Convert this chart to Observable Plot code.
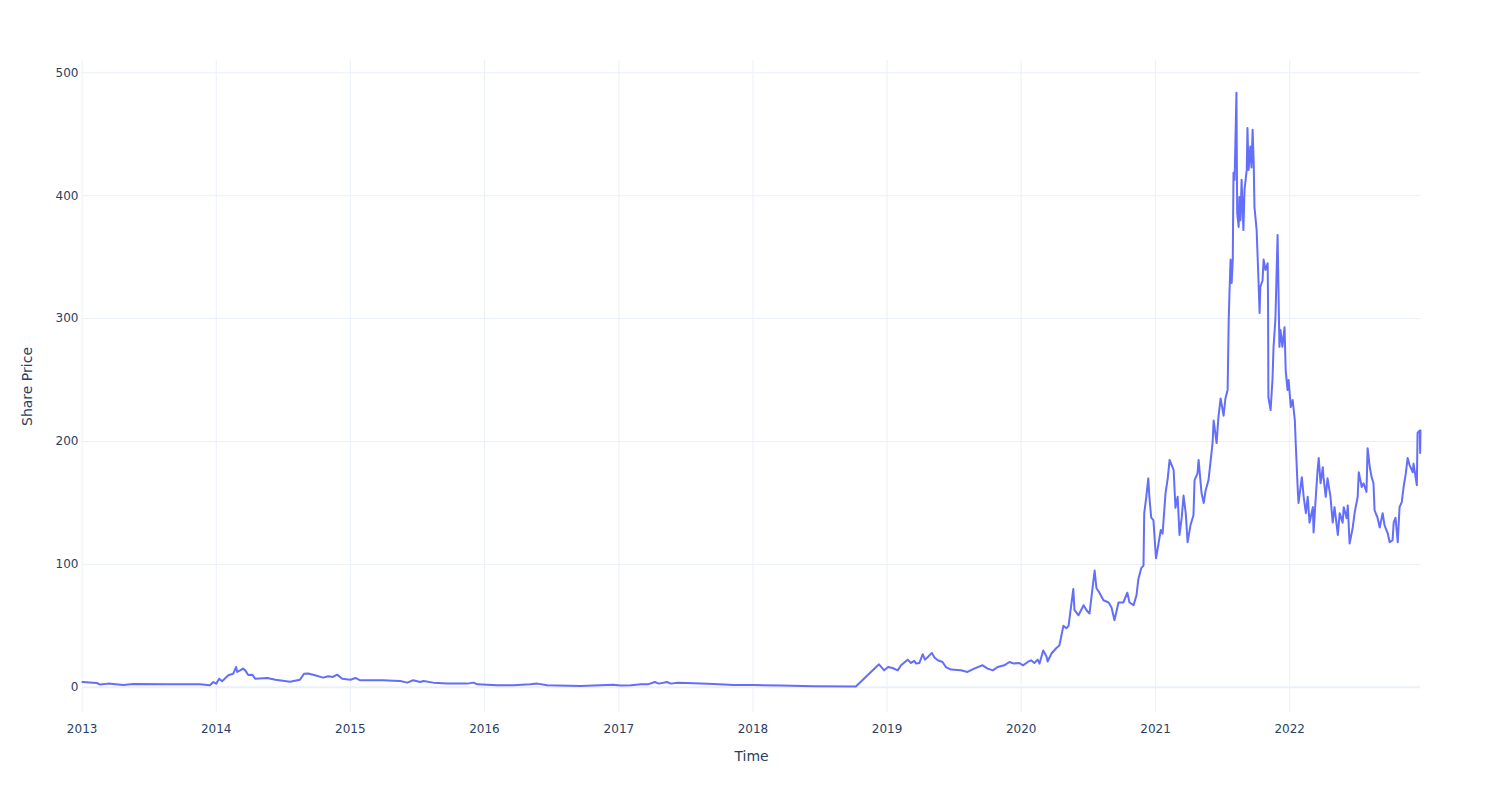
<!DOCTYPE html>
<html><head><meta charset="utf-8">
<script src="https://cdn.jsdelivr.net/npm/d3@7"></script>
<script src="https://cdn.jsdelivr.net/npm/@observablehq/plot@0.6"></script>
<style>body{margin:0;background:#fff;}</style>
</head><body><div id="chart"></div>
<script>
const dates = [
"2013-01-02","2013-02-10","2013-02-19","2013-03-13","2013-04-23","2013-05-20","2013-08-20","2013-11-18","2013-12-15","2013-12-24",
"2014-01-01","2014-01-09","2014-01-17","2014-02-03","2014-02-16","2014-02-24","2014-02-27","2014-03-07","2014-03-15","2014-03-21",
"2014-03-29","2014-04-09","2014-04-17","2014-05-20","2014-06-11","2014-07-21","2014-08-17","2014-08-28","2014-09-08","2014-09-27",
"2014-10-19","2014-11-02","2014-11-15","2014-11-26","2014-12-10",
"2015-01-01","2015-01-15","2015-01-28","2015-04-01","2015-04-28","2015-05-17","2015-06-05","2015-06-21","2015-07-10","2015-07-19",
"2015-08-15","2015-09-22","2015-11-15","2015-12-02","2015-12-13",
"2016-02-05","2016-03-20","2016-05-05","2016-05-24","2016-06-20","2016-09-18","2016-12-17",
"2017-01-06","2017-02-03","2017-03-02","2017-03-21","2017-04-09","2017-04-20","2017-05-12","2017-05-22","2017-06-10","2017-07-24",
"2017-09-16","2017-11-10",
"2018-01-04","2018-03-18","2018-06-16","2018-10-08","2018-12-10","2018-12-24",
"2019-01-04","2019-01-16","2019-01-30","2019-02-08","2019-02-26","2019-03-07","2019-03-16","2019-03-21","2019-03-30","2019-04-08",
"2019-04-14","2019-04-22","2019-05-03","2019-05-10","2019-05-19","2019-06-01","2019-06-10","2019-06-24","2019-07-21","2019-08-08",
"2019-08-26","2019-09-18","2019-10-02","2019-10-16","2019-10-29","2019-11-16","2019-11-30","2019-12-13","2019-12-27",
"2020-01-06","2020-01-19","2020-01-28","2020-02-06","2020-02-15","2020-02-20","2020-03-01","2020-03-10","2020-03-13","2020-03-24",
"2020-04-06","2020-04-14","2020-04-25","2020-05-03","2020-05-09","2020-05-22","2020-05-25","2020-06-05","2020-06-19","2020-06-27",
"2020-07-05","2020-07-19","2020-07-24","2020-08-01","2020-08-12","2020-08-26","2020-09-03","2020-09-11","2020-09-22","2020-10-05",
"2020-10-16","2020-10-22","2020-11-02","2020-11-10","2020-11-15","2020-11-23","2020-11-29","2020-12-01","2020-12-07","2020-12-12",
"2020-12-15","2020-12-20","2020-12-26",
"2021-01-02","2021-01-06","2021-01-15","2021-01-20","2021-01-28","2021-02-03","2021-02-08","2021-02-19","2021-02-24","2021-03-02",
"2021-03-07","2021-03-13","2021-03-18","2021-03-24","2021-03-29","2021-04-06","2021-04-14","2021-04-17","2021-04-25","2021-04-28",
"2021-05-06","2021-05-12","2021-05-17","2021-05-25","2021-05-31","2021-06-05","2021-06-08","2021-06-16","2021-06-21","2021-06-27",
"2021-07-05","2021-07-10","2021-07-16","2021-07-19","2021-07-21","2021-07-24","2021-07-27","2021-07-30","2021-08-01","2021-08-04",
"2021-08-09","2021-08-11","2021-08-15","2021-08-17","2021-08-20","2021-08-23","2021-08-28","2021-08-31","2021-09-06","2021-09-08",
"2021-09-11","2021-09-16","2021-09-19","2021-09-22","2021-09-25","2021-09-27","2021-10-03","2021-10-08","2021-10-11","2021-10-13",
"2021-10-19","2021-10-22","2021-10-27","2021-11-02","2021-11-03","2021-11-04","2021-11-10","2021-11-15","2021-11-18","2021-11-23",
"2021-11-29","2021-12-01","2021-12-04","2021-12-07","2021-12-12","2021-12-18","2021-12-21","2021-12-26","2021-12-29",
"2022-01-04","2022-01-09","2022-01-15","2022-01-17","2022-01-23","2022-01-25","2022-02-03","2022-02-08","2022-02-14","2022-02-19",
"2022-02-24","2022-03-05","2022-03-07","2022-03-13","2022-03-18","2022-03-21","2022-03-26","2022-04-01","2022-04-03","2022-04-09",
"2022-04-14","2022-04-22","2022-04-28","2022-05-03","2022-05-12","2022-05-17","2022-05-25","2022-05-28","2022-06-05","2022-06-08",
"2022-06-13","2022-06-21","2022-06-27","2022-07-05","2022-07-08","2022-07-16","2022-07-21","2022-07-29","2022-08-01","2022-08-07",
"2022-08-12","2022-08-17","2022-08-20","2022-08-28","2022-09-03","2022-09-11","2022-09-16","2022-09-25","2022-09-30","2022-10-08",
"2022-10-11","2022-10-16","2022-10-22","2022-10-27","2022-11-02","2022-11-07","2022-11-13","2022-11-18","2022-11-23","2022-12-02",
"2022-12-04","2022-12-13","2022-12-15","2022-12-21","2022-12-22","2022-12-23"
];
const prices = [
4.4,3.5,2.2,3.0,1.8,2.7,2.5,2.4,1.7,4.3,
3.0,7.0,5.0,9.8,11,16.5,12.5,13.8,15.2,13.8,
10,10.3,7,7.5,6.2,4.6,6.2,11,11.3,9.8,
7.9,9,8.4,10.3,7,
6.2,7.6,5.7,5.7,5.4,5.1,3.8,5.7,4.3,5.1,
3.8,3,3,3.8,2.4,
1.6,1.6,2.4,3,1.6,1.1,2,
1.4,1.6,2.4,2.4,4.3,3,4.3,3,3.8,3.3,
2.7,1.9,
1.9,1.4,0.8,0.6,18.7,13.8,
16.5,15.7,13.8,17.9,22.5,19.8,21.5,19.3,19.8,26.9,
22.5,24.7,28,24.2,22,20.6,16.5,14.4,13.8,12.5,
15.2,17.9,15.2,13.8,16.5,17.9,20.6,19.3,19.8,
17.9,20.6,22,19.8,22.5,19.3,30,25,21,27.7,
32,34,50,48,50,80,63,58.6,66.8,62.7,
60,95,80.6,77,70.8,69,65,54.6,69,69,
77,69,66.8,75,88,97,99,141.7,156,170,
155,138,136,
105,111.6,128,125,158,170,185,177,146,155,
124,138,156,141.7,118,132,140,168.6,174,185,
158,150,160,168.6,185,198.7,217,198.7,220,235,
221,235,242,299,321,348,329,348,418.6,413,
483.7,386,374.6,399,380,413,372,405,421,455,
421,440,423,453.6,426.7,391,372,331,304.6,325.7,
331,348,339.6,345,315,236,225.6,250,277,299,
368,331,277,290.7,277,293,258,242,250,
228,233.7,217,201,160,150,171,155,141.7,155,
134,146.6,126,155,177,186.5,166,179,171,155,
170,155,134,146.6,124,141.7,134,146.6,137.6,148,
117,129,142.5,155,175,163,166,159,194.6,179,
171,166,144,138,130,141.7,132,125,118,119.7,
134,138,118,146.6,150.6,163,174,186.5,181,175,
182,164.5,207,209,190.6,209
];
const yTicks = [0, 100, 200, 300, 400, 500];
const xTickYears = [2013, 2014, 2015, 2016, 2017, 2018, 2019, 2020, 2021, 2022];
const xTitle = "Time";
const yTitle = "Share Price";

const data = dates.map((d, i) => ({date: new Date(d), price: prices[i]}));
const xTicks = xTickYears.map(y => new Date(Date.UTC(y, 0, 1)));
const ink = "#2a3f5f";
const grid = "#ebf0f8";

const chart = Plot.plot({
  width: 1500, height: 800,
  marginLeft: 82, marginRight: 80, marginTop: 60, marginBottom: 88,
  style: {fontFamily: "'DejaVu Sans', sans-serif", fontSize: "12px", color: ink, background: "#fff"},
  x: {type: "utc", domain: [data[0].date, data[data.length - 1].date], label: null},
  y: {domain: [-20.5, 510], label: null},
  marks: [
    Plot.gridX(xTicks, {stroke: grid, strokeOpacity: 1}),
    Plot.gridY(yTicks, {stroke: grid, strokeOpacity: 1}),
    Plot.ruleY([0], {stroke: grid, strokeWidth: 2}),
    Plot.lineY(data, {x: "date", y: "price", stroke: "#636efa", strokeWidth: 2}),
    Plot.axisY(yTicks, {tickSize: 0, tickPadding: 4, fill: ink, label: null}),
    Plot.axisX(xTicks, {tickSize: 0, tickPadding: 12, fill: ink, tickFormat: d3.utcFormat("%Y"), label: null}),
    Plot.text([yTitle], {frameAnchor: "left", dx: -55, rotate: -90, textAnchor: "middle", lineAnchor: "middle", fontSize: 14, fill: ink}),
    Plot.text([xTitle], {frameAnchor: "bottom", dy: 44, textAnchor: "middle", lineAnchor: "middle", fontSize: 14, fill: ink})
  ]
});
document.getElementById("chart").append(chart);
</script>
</body></html>
